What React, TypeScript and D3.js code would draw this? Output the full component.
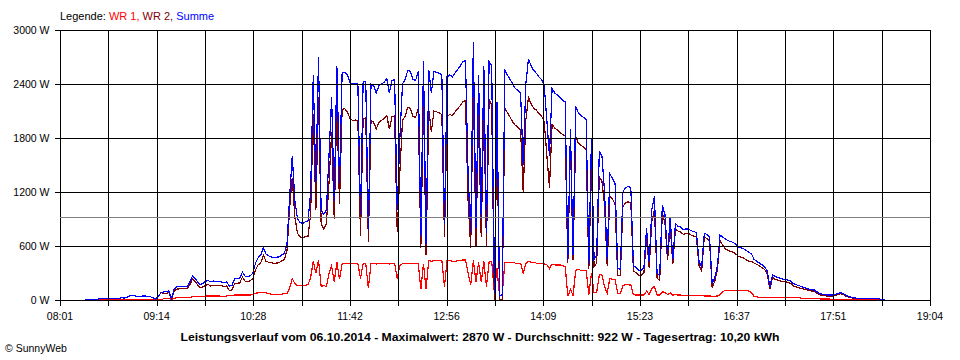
import * as d3 from "d3";

// Messwerte im 2-Minuten-Raster ab 08:20
const START_MIN = 8 * 60 + 20;
const STEP_MIN = 2;

const wr1 = [
  0, 0, 0, 0, 0, 0, 0, 0, 0, 0,
  0, 0, 0, 0, 0, 0, 0, 0, 0, 0,
  0, 0, 0, 0, 0, 0, 0, 0, 0, 0,
  15, 20, 20, 5, 20, 25, 25, 25, 25, 25,
  30, 35, 35, 35, 35, 40, 45, 45, 45, 45,
  45, 45, 40, 40, 45, 50, 50, 55, 55, 55,
  55, 55, 55, 55, 60, 75, 80, 85, 85, 80,
  70, 65, 65, 65, 65, 65, 70, 70, 130, 240,
  180, 160, 160, 160, 165, 170, 250, 430, 300, 440,
  150, 160, 150, 300, 380, 200, 420, 230, 400, 405,
  410, 405, 405, 410, 405, 240, 405, 405, 130, 405,
  405, 400, 405, 405, 405, 410, 400, 405, 405, 240,
  380, 405, 410, 410, 410, 410, 410, 410, 120, 400,
  120, 440, 430, 440, 440, 440, 440, 150, 440, 440,
  430, 430, 435, 440, 445, 445, 300, 170, 440, 200,
  420, 200, 430, 150, 420, 430, 80, 350, 40, 60,
  420, 420, 420, 420, 410, 410, 410, 300, 400, 430,
  420, 420, 410, 410, 405, 400, 390, 350, 400, 390,
  390, 390, 380, 375, 40, 120, 50, 330, 340, 330,
  330, 330, 60, 300, 80, 90, 280, 280, 150, 75,
  240, 230, 230, 75, 70, 160, 170, 170, 165, 60,
  55, 55, 55, 55, 100, 60, 130, 150, 55, 55,
  90, 85, 60, 80, 55, 60, 55, 55, 50, 50,
  50, 50, 50, 50, 48, 48, 45, 45, 45, 40,
  40, 45, 60, 90, 110, 110, 110, 110, 110, 105,
  105, 105, 105, 100, 80, 40, 35, 30, 30, 30,
  30, 30, 30, 30, 30, 28, 28, 28, 28, 25,
  25, 25, 25, 20, 20, 15, 15, 15, 15, 15,
  12, 12, 12, 12, 10, 10, 10, 10, 10, 10,
  8, 8, 5, 5, 0, 0, 0, 0, 0, 0,
  0, 0, 0, 0, 0, 0,
];

const wr2 = [
  0, 5, 10, 10, 5, 10, 15, 15, 15, 20,
  20, 15, 20, 20, 25, 20, 30, 45, 50, 45,
  40, 35, 45, 45, 40, 35, 25, 10, 45, 80,
  75, 75, 80, 10, 100, 120, 125, 125, 125, 125,
  170, 235, 205, 165, 135, 145, 165, 170, 155, 165,
  160, 165, 160, 150, 155, 105, 110, 180, 185, 190,
  255, 210, 205, 215, 240, 335, 390, 415, 495, 430,
  420, 415, 405, 410, 415, 435, 450, 550, 1020, 1360,
  920, 740, 700, 690, 705, 710, 950, 2070, 1000, 2260,
  850, 790, 850, 1300, 1870, 900, 2180, 1070, 2120, 2125,
  2090, 2015, 1995, 2000, 1995, 710, 2015, 2025, 650, 1995,
  1975, 1900, 1975, 1995, 2015, 2050, 1900, 2035, 2045, 760,
  1420, 1995, 2040, 2140, 2130, 2040, 2030, 2130, 580, 2250,
  500, 2120, 1870, 2100, 2090, 2080, 2060, 700, 2040, 2060,
  2050, 2090, 2125, 2160, 2205, 2215, 1100, 580, 2430, 600,
  2080, 700, 2170, 600, 2230, 2170, 0, 1850, 0, 0,
  2130, 2080, 2030, 1980, 1940, 1920, 1890, 1200, 2000, 2250,
  2180, 2130, 2110, 2070, 2045, 1980, 1610, 1250, 1950, 1910,
  1890, 1860, 1840, 1825, 410, 1780, 450, 1820, 1740, 1720,
  1700, 1670, 340, 1500, 370, 410, 1370, 1320, 1050, 375,
  1160, 1120, 1070, 275, 270, 1040, 1080, 1090, 1085, 320,
  305, 275, 275, 305, 700, 360, 870, 1000, 245, 215,
  960, 865, 440, 840, 395, 790, 765, 755, 730, 740,
  740, 720, 710, 700, 382, 322, 695, 685, 655, 140,
  210, 335, 660, 610, 570, 550, 540, 530, 510, 485,
  475, 465, 445, 430, 430, 410, 395, 380, 360, 340,
  290, 120, 250, 230, 220, 212, 202, 202, 192, 185,
  155, 145, 135, 130, 120, 115, 105, 100, 95, 75,
  58, 53, 48, 43, 45, 45, 50, 65, 70, 60,
  42, 32, 25, 20, 20, 20, 20, 15, 15, 15,
  15, 15, 15, 10, 10, 5,
];

const summe = [
  0, 5, 10, 10, 5, 10, 15, 15, 15, 20,
  20, 15, 20, 20, 25, 20, 30, 45, 50, 45,
  40, 35, 45, 45, 40, 35, 25, 10, 45, 80,
  90, 95, 100, 15, 120, 145, 150, 150, 150, 150,
  200, 270, 240, 200, 170, 185, 210, 215, 200, 210,
  205, 210, 200, 190, 200, 155, 160, 235, 240, 245,
  310, 265, 260, 270, 300, 410, 470, 500, 580, 510,
  490, 480, 470, 475, 480, 500, 520, 620, 1150, 1600,
  1100, 900, 860, 850, 870, 880, 1200, 2500, 1300, 2700,
  1000, 950, 1000, 1600, 2250, 1100, 2600, 1300, 2520, 2530,
  2500, 2420, 2400, 2410, 2400, 950, 2420, 2430, 780, 2400,
  2380, 2300, 2380, 2400, 2420, 2460, 2300, 2440, 2450, 1000,
  1800, 2400, 2450, 2550, 2540, 2450, 2440, 2540, 700, 2650,
  620, 2560, 2300, 2540, 2530, 2520, 2500, 850, 2480, 2500,
  2480, 2520, 2560, 2600, 2650, 2660, 1400, 750, 2870, 800,
  2500, 900, 2600, 750, 2650, 2600, 80, 2200, 40, 60,
  2550, 2500, 2450, 2400, 2350, 2330, 2300, 1500, 2400, 2680,
  2600, 2550, 2520, 2480, 2450, 2380, 2000, 1600, 2350, 2300,
  2280, 2250, 2220, 2200, 450, 1900, 500, 2150, 2080, 2050,
  2030, 2000, 400, 1800, 450, 500, 1650, 1600, 1200, 450,
  1400, 1350, 1300, 350, 340, 1200, 1250, 1260, 1250, 380,
  360, 330, 330, 360, 800, 420, 1000, 1150, 300, 270,
  1050, 950, 500, 920, 450, 850, 820, 810, 780, 790,
  790, 770, 760, 750, 430, 370, 740, 730, 700, 180,
  250, 380, 720, 700, 680, 660, 650, 640, 620, 590,
  580, 570, 550, 530, 510, 450, 430, 410, 390, 370,
  320, 150, 280, 260, 250, 240, 230, 230, 220, 210,
  180, 170, 160, 150, 140, 130, 120, 115, 110, 90,
  70, 65, 60, 55, 55, 55, 60, 75, 80, 70,
  50, 40, 30, 25, 20, 20, 20, 15, 15, 15,
  15, 15, 15, 10, 10, 5,
];

const yTicks = [0, 600, 1200, 1800, 2400, 3000];
const xLabels = ["08:01", "09:14", "10:28", "11:42", "12:56", "14:09", "15:23", "16:37", "17:51", "19:04"];
const AXIS_START = 8 * 60 + 1;
const AXIS_END = 19 * 60 + 4;
const durchschnitt = 922;
const seriesNames = ["WR 1", "WR 2", "Summe"];
const title =
  "Leistungsverlauf vom 06.10.2014 - Maximalwert: 2870 W - Durchschnitt: 922 W - Tagesertrag: 10,20 kWh";

const COLORS = ["#ff0000", "#800000", "#0000ff"];
const FONT = "'Liberation Sans', Arial, sans-serif";

export default function App() {
  const width = 960;
  const height = 360;
  const left = 60;
  const right = 930;
  const top = 30;
  const bottom = 300;

  const x = d3.scaleLinear().domain([AXIS_START, AXIS_END]).range([left, right]);
  const y = d3.scaleLinear().domain([0, 3000]).range([bottom, top]);

  const line = d3
    .line<number>()
    .x((_, i) => x(START_MIN + i * STEP_MIN))
    .y((d) => y(d));

  const tickTimes = d3.range(19).map((k) => AXIS_START + (k * (AXIS_END - AXIS_START)) / 18);
  const px = (v: number) => Math.round(v) + 0.5;

  const series = [wr1, wr2, summe];

  return (
    <svg
      width={width}
      height={height}
      style={{ position: "absolute", left: 0, top: 0, background: "#fff" }}
      fontFamily={FONT}
    >
      <rect x={0} y={0} width={width} height={height} fill="#fff" />

      {series.map((s, i) => (
        <path
          key={i}
          d={line(s) || ""}
          fill="none"
          stroke={COLORS[i]}
          strokeWidth={1.2}
          shapeRendering="crispEdges"
        />
      ))}

      <g stroke="#000" strokeWidth={1} shapeRendering="crispEdges">
        {yTicks.map((t) => (
          <line key={t} x1={left - 5} x2={right} y1={px(y(t))} y2={px(y(t))} />
        ))}
        {tickTimes.map((t, k) => (
          <line key={k} x1={px(x(t))} x2={px(x(t))} y1={top} y2={bottom + 6} />
        ))}
      </g>

      <line
        x1={left}
        x2={right}
        y1={px(y(durchschnitt))}
        y2={px(y(durchschnitt))}
        stroke="#808080"
        strokeWidth={1}
        shapeRendering="crispEdges"
      />

      <g fontSize={10.5} fill="#000">
        {yTicks.map((t) => (
          <text key={t} x={49.5} y={y(t) + 4} textAnchor="end">
            {`${t} W`}
          </text>
        ))}
        {xLabels.map((lab, k) => (
          <text key={lab} x={x(tickTimes[k * 2])} y={320} textAnchor="middle">
            {lab}
          </text>
        ))}
      </g>

      <text x={60} y={20} fontSize={11}>
        <tspan fill="#000">Legende: </tspan>
        {seriesNames.map((n, i) => (
          <tspan key={n} fill={COLORS[i]}>
            {i < seriesNames.length - 1 ? `${n}, ` : n}
          </tspan>
        ))}
      </text>

      <text
        x={480}
        y={341}
        textAnchor="middle"
        fontSize={11.5}
        fontWeight="bold"
        textLength={599}
        lengthAdjust="spacingAndGlyphs"
      >
        {title}
      </text>

      <text x={5} y={352} fontSize={10.5}>
        © SunnyWeb
      </text>
    </svg>
  );
}
